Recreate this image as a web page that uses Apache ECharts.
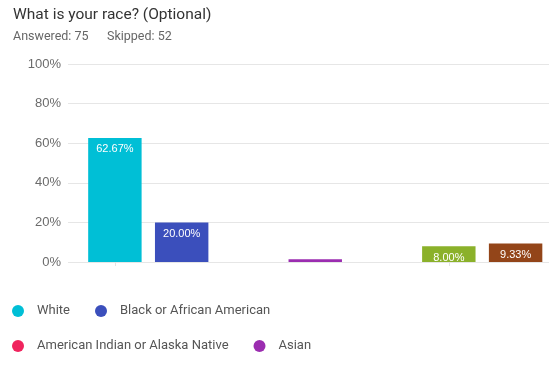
<!DOCTYPE html>
<html><head><meta charset="utf-8">
<script src="https://cdn.jsdelivr.net/npm/echarts@6/dist/echarts.min.js"></script>
<style>html,body{margin:0;padding:0;background:#fff}#c{width:549px;height:369px}</style>
</head><body><div id="c"></div>
<script>
const categories = ["White","Black or African American","American Indian or Alaska Native","Asian","Native Hawaiian or other Pacific Islander","From multiple races","Other (please specify)"];
const values = [62.67, 20.00, 0, 1.33, 0, 8.00, 9.33];
const colors = ["#00bfd6","#3b4fbc","#f0245e","#9b2db0","#f29c26","#8bb12a","#934519"];
const yTicks = [0,20,40,60,80,100];
const titleText = 'What is your race? (Optional)';
const answeredText = 'Answered: 75';
const skippedText = 'Skipped: 52';

const chart = echarts.init(document.getElementById('c'), null, {renderer:'canvas'});
const series = categories.map((name,i)=>({
  name, type:'bar', stack:'all', xAxisIndex:1, yAxisIndex:1,
  barWidth:'80%',
  itemStyle:{color:colors[i]},
  label:{show:true, position:'insideTop', distance:6, color:'#fff', fontSize:11,
    fontFamily:'Liberation Sans, Arial, sans-serif',
    formatter:p=> p.value>=2 ? p.value.toFixed(2)+'%' : ''},
  data: categories.map((c,j)=> j===i ? values[i] : '-')
}));
const font = 'Roboto, sans-serif';
chart.setOption({
  animation:false,
  graphic:[
    {type:'text', left:13, top:7, style:{text:titleText, fill:'#333', font:'15.5px '+font}},
    {type:'text', left:13, top:30, style:{text:answeredText, fill:'#666', font:'12.5px '+font}},
    {type:'text', left:107, top:30, style:{text:skippedText, fill:'#666', font:'12.5px '+font}}
  ],
  legend:{left:7, top:298, width:340, itemWidth:12, itemHeight:12, icon:'circle', itemGap:19,
    data:categories,
    textStyle:{fontFamily:font, fontSize:13, color:'#555', padding:[0,6,0,8], lineHeight:16}},
  grid:[{left:68, right:0, top:64, height:198},{left:81.5, right:0, top:64, height:198}],
  xAxis:[
    {type:'value', gridIndex:0, show:false},
    {type:'category', gridIndex:1, data:categories, axisLine:{show:false},
      axisTick:{show:true, alignWithLabel:true, length:4, lineStyle:{color:'#e3e3e3'}},
      axisLabel:{show:false}}
  ],
  yAxis:[
    {type:'value', gridIndex:0, min:0, max:100, interval:20,
      axisLabel:{formatter:v=>yTicks.includes(v)?v+'%':'', color:'#6b6b6b', fontSize:13, margin:7,
        fontFamily:'Liberation Sans, Arial, sans-serif'},
      axisLine:{show:false}, axisTick:{show:false},
      splitLine:{lineStyle:{color:'#e6e6e6'}}},
    {type:'value', gridIndex:1, min:0, max:100, show:false}
  ],
  series
});
</script></body></html>
